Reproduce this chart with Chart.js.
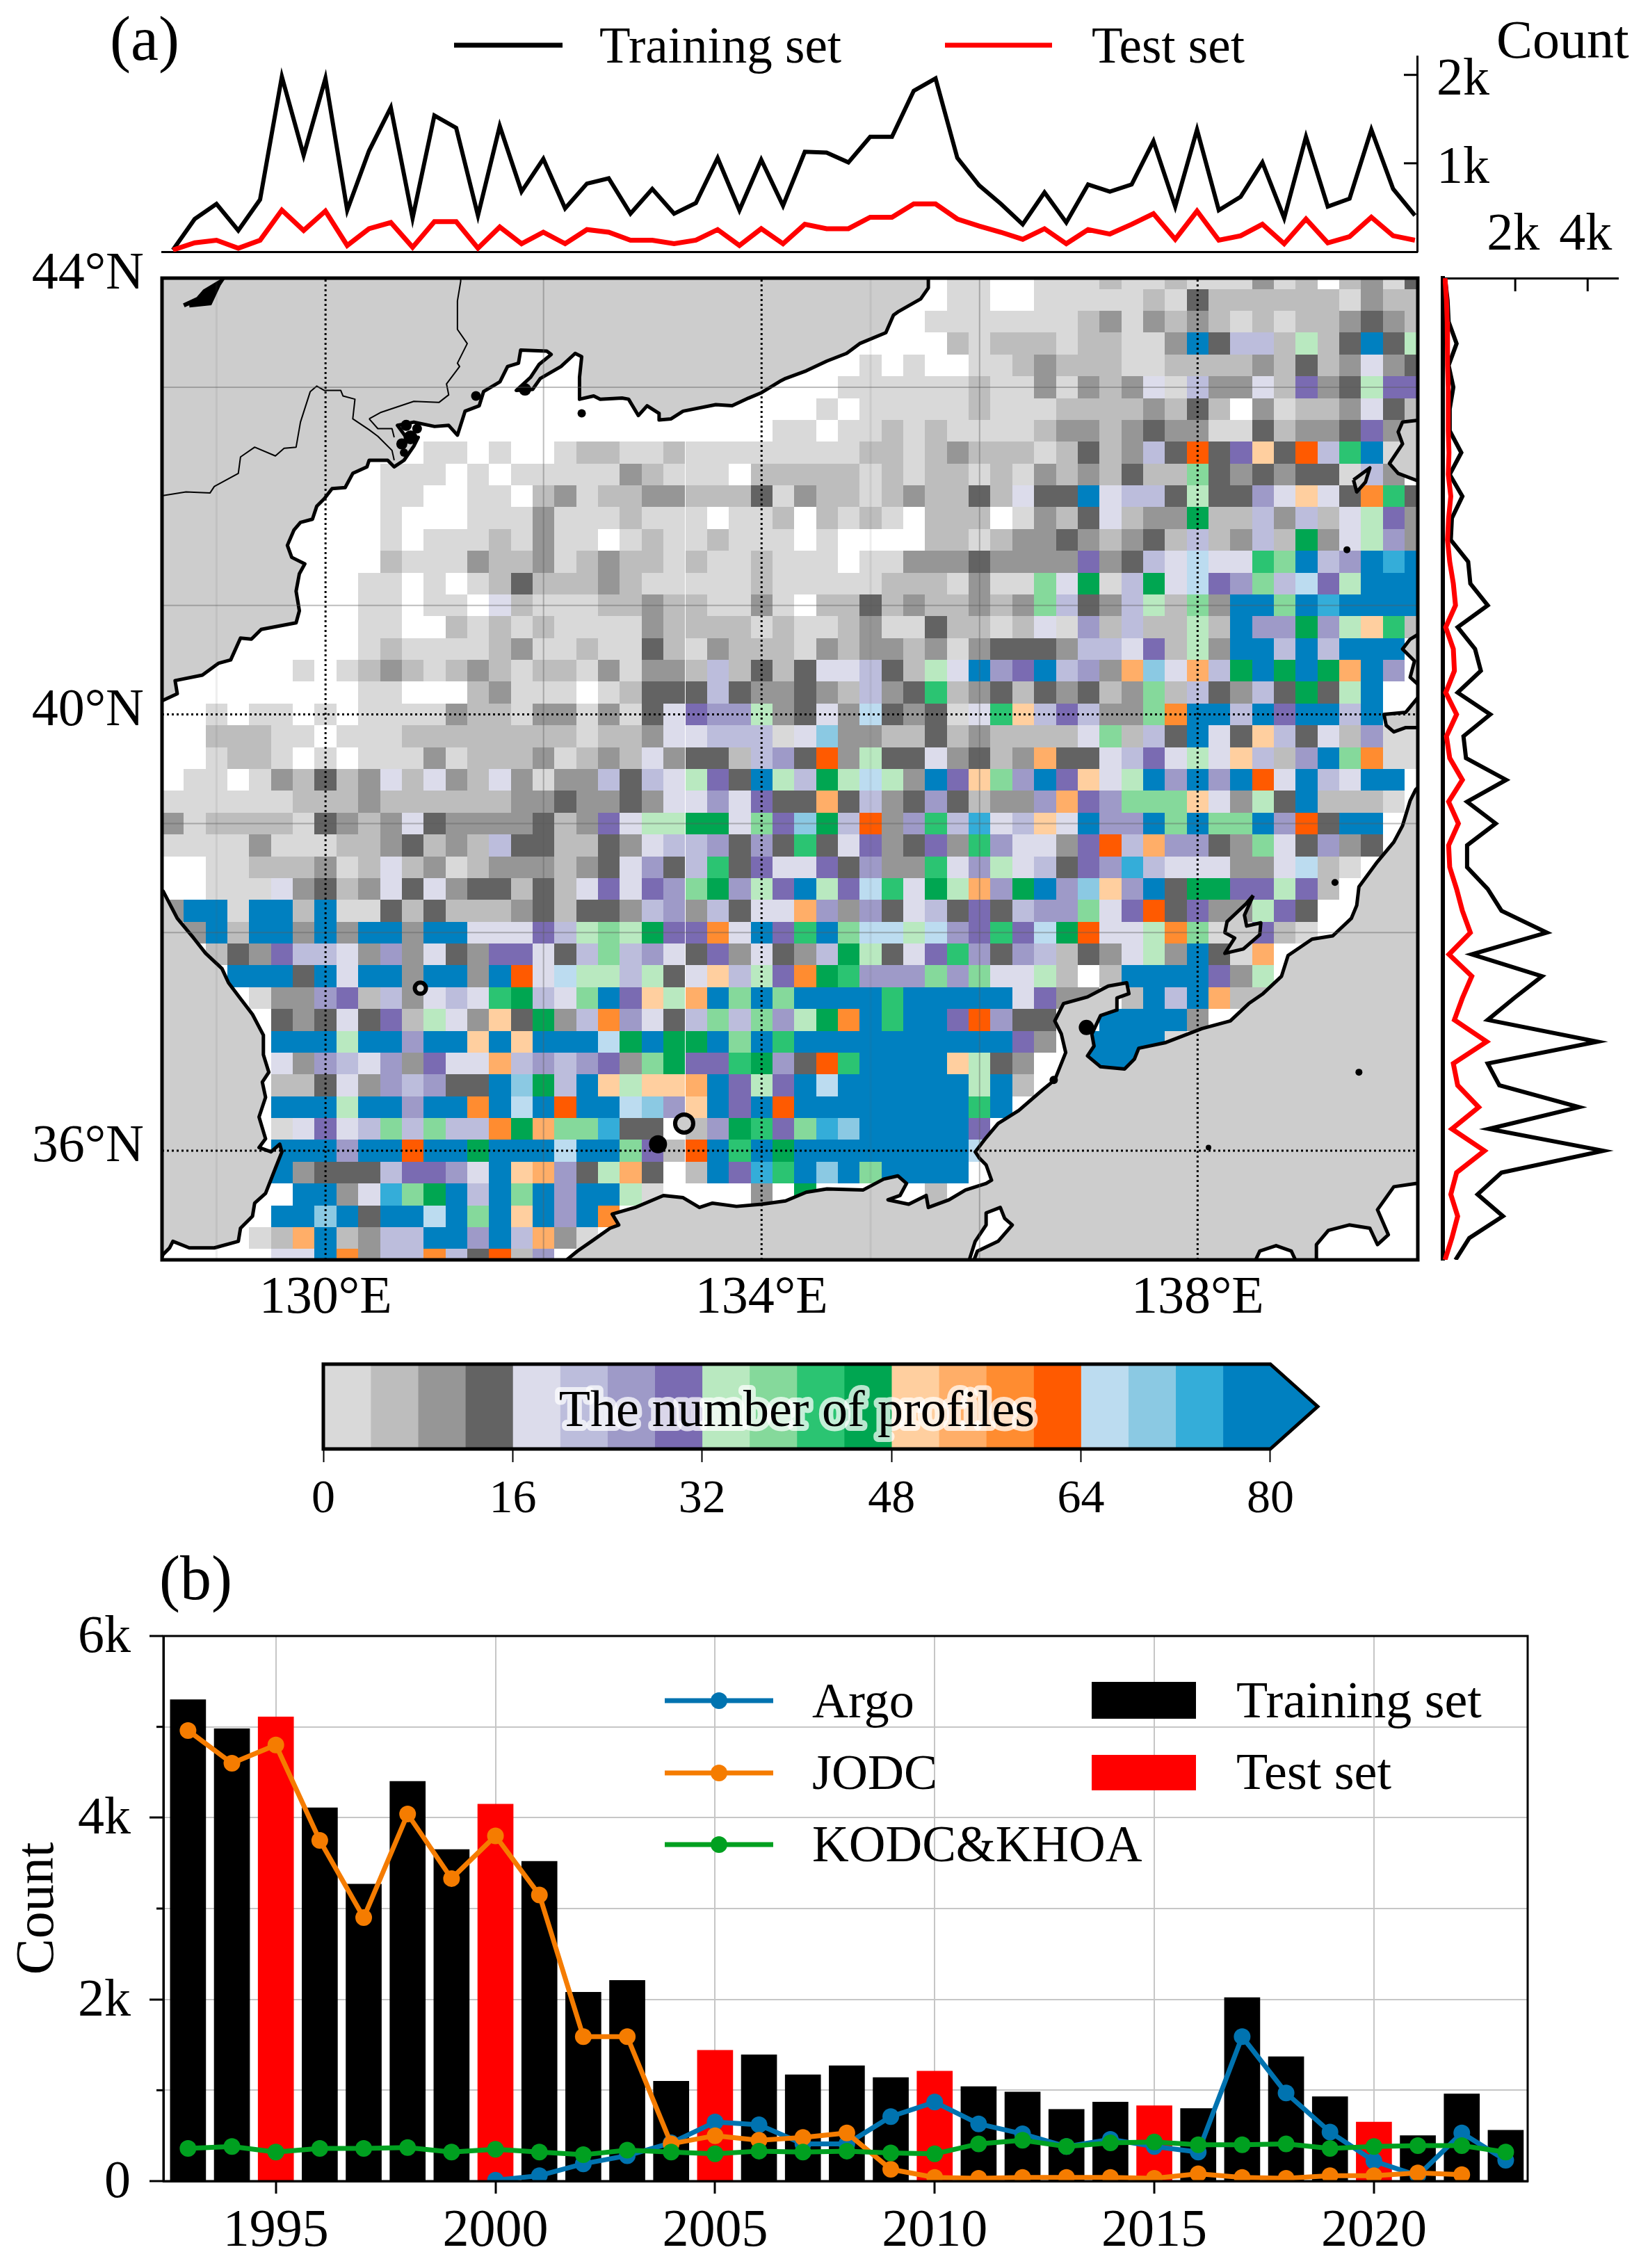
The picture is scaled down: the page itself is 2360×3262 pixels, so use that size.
<!DOCTYPE html>
<html>
<head>
<meta charset="utf-8">
<title>Profiles</title>
<script src="https://cdn.jsdelivr.net/npm/chart.js@4"></script>
<style>
  html, body { margin: 0; padding: 0; background: #fff; }
  #page { position: relative; width: 2360px; height: 3262px; overflow: hidden; }
  canvas { position: absolute; left: 0; }
</style>
</head>
<body>
<div id="page">
  <canvas id="mapChart" width="2360" height="1600" style="top:350px"></canvas>
  <canvas id="topChart" width="2360" height="400" style="top:0"></canvas>
  <canvas id="rightChart" width="2360" height="1540" style="top:280px"></canvas>
  <canvas id="barChart2" width="2360" height="1062" style="top:2200px"></canvas>
  <canvas id="colorChart" width="2360" height="300" style="top:1900px"></canvas>
</div>
<script>
// ---- data ----
const SERIF = '"Liberation Serif", "Times New Roman", serif';

// marginal counts per 0.2 degree of longitude (k profiles)
const lonCentres = [128.6,128.8,129,129.2,129.4,129.6,129.8,130,130.2,130.4,130.6,130.8,131,131.2,131.4,131.6,131.8,132,132.2,132.4,132.6,132.8,133,133.2,133.4,133.6,133.8,134,134.2,134.4,134.6,134.8,135,135.2,135.4,135.6,135.8,136,136.2,136.4,136.6,136.8,137,137.2,137.4,137.6,137.8,138,138.2,138.4,138.6,138.8,139,139.2,139.4,139.6,139.8,140];
const lonTraining = [.02,.37,.54,.24,.59,1.98,1.09,1.96,.47,1.14,1.63,.38,1.54,1.40,.41,1.42,.68,1.05,.49,.77,.83,.43,.71,.43,.55,1.06,.47,1.04,.52,1.13,1.12,1.01,1.30,1.30,1.82,1.96,1.06,.75,.54,.31,.67,.33,.76,.68,.76,1.25,.51,1.38,.47,.62,1.01,.38,1.30,.51,.60,1.38,.71,.41];
const lonTest = [.02,.10,.13,.04,.13,.47,.24,.46,.07,.26,.33,.05,.34,.34,.04,.28,.09,.22,.09,.25,.22,.13,.13,.09,.13,.25,.07,.26,.09,.31,.26,.26,.39,.39,.54,.54,.37,.29,.22,.14,.26,.09,.25,.20,.31,.43,.14,.46,.13,.18,.31,.09,.37,.10,.17,.39,.18,.13];

// marginal counts per 0.2 degree of latitude (k profiles), north to south
const latCentres = [44,43.8,43.6,43.4,43.2,43,42.8,42.6,42.4,42.2,42,41.8,41.6,41.4,41.2,41,40.8,40.6,40.4,40.2,40,39.8,39.6,39.4,39.2,39,38.8,38.6,38.4,38.2,38,37.8,37.6,37.4,37.2,37,36.8,36.6,36.4,36.2,36,35.8,35.6,35.4,35.2,35];
const latTraining = [.06,.13,.16,.38,.16,.29,.19,.19,.51,.19,.54,.25,.22,.70,.76,1.24,.41,.89,1.05,.41,1.31,.57,.64,1.75,.67,1.46,.67,.67,1.24,1.62,2.87,.80,2.74,1.97,1.24,4.27,1.24,1.56,3.76,1.27,4.43,1.62,.96,1.66,.73,.35];
const latTest = [.06,.10,.12,.13,.13,.15,.15,.15,.17,.15,.22,.16,.13,.19,.29,.35,.08,.29,.32,.08,.38,.10,.19,.54,.16,.43,.16,.19,.38,.54,.76,.17,.80,.54,.32,1.21,.29,.41,.99,.25,1.15,.38,.22,.41,.25,.06];

// colour bins, 4 profiles wide, from 0 to 80+
const binKeys = '1234' + '5678' + '9abc' + 'defg' + 'hijk';
const binColors = ['#d9d9d9','#bdbdbd','#969696','#636363','#dcdceb','#bcbddc','#9e9ac8','#7a6bb2','#b9e9c0','#85d99b','#2bc472','#00a651','#ffcf9f','#ffae68','#ff8c30','#ff5a00','#bcdcf0','#8bc9e3','#34add9','#0080c0'];
const binEdges = [0,4,8,12,16,20,24,28,32,36,40,44,48,52,56,60,64,68,72,76,80];
const colorbarTicks = [0,16,32,48,64,80];

// profile count bin per cell. cols start at 128.6E and step 0.2, rows start at 44N and step -0.2
const rowStart = [36,36,35,36,32,31,30,28,12,10,10,10,10,10,9,9,9,9,6,9,2,2,2,0,0,0,0,0,0,0,0,0,0,0,0,0,0,0,0,0,0,0,0,0,0,0];
const cellRows = [
  '11.. 111 2 11 2 111 3 1 2 . 2 3 1 4',
  '11.. 11111 2 1 4 222222 1 3 22',
  '1111111 2 3 1 3 2 3 2 1 2 1 22 3 4 3 2',
  '2 1 222 1 22 11 3 k 4 66 2 9 2 4 k 4 9',
  '1 . 1 .. 11 2 3 222 11 2222 3 2 4 2 3 5 3 4',
  '111111 2 11 3 1 3 2 3 5 1 6 33 5 2 8 3 4 9 88',
  '1 . 11111 2 111 2222 3 2 4 2 . 3 1 22 3 5 4 2',
  '11 . 11 2 1 2 1111 2 33 2 3 4 33 11 4 2 33 4 8 3 .',
  '11 . 1 .. 1 22 11 2 11111 111 22 1 2 3 222 1 2 4 2 3 6 4 g 4 8 d 4 g 6 b k 1 .',
  '111 . 1 . 11111 3 2 111 . 22 222 1 2 1 22 1 2 1 3 2 3 2 4 22 a 4 3 4 3 44 1 6 3 .',
  '11 .. 11 . 2 3 1 22 33 222 4 1 3 22 1 2 3 22 4 2 5 44 k 5 66 4 9 44 7 5 d 5 4 f b 4',
  '1 ... 111 3 111 2 111 . 11 2 . 2 1 2 1 . 222 . 1 3 2 4 5 2 33 c 22 6 3 6 2 5 9 8 3',
  '1 . 111 2 1 3 11 . 1 2 11 2 111 . 1 .... 22 1 2 33 4 3 2 3 4 2 6 2 3 6 2 c 3 5 9 7 3',
  '2 111 3 22 3 1 2 3 22 1 2 11 2 1 11 . 11 333 4 3333 8 3 4 6 5 h 55 b a k 6 7 k j k',
  '11 . 1 . 1 2 4 222 3 2 11111 2 11111 222 1 3 11 a 5 c 1 6 c 5 h 8 7 a 6 h 8 9 kkk',
  '11 . 11 . 5 2 111 22 3 22 11 3 1 . 22 4 2 3 22 3 2 3 a 6 4 3 6 9 2 a 3 kk a k j kkkk',
  '11 .. 2 1 2 1 2 1111 3 2222 1 2 11 2 3 11 4 22 1 2 5 1 7 2 6 22 9 2 k 77 c 7 9 d b 2',
  '1 2 1111 2 3 11 2 11 4 2 1 3 22 2 1 3 2 33 2 3 1 3 444 3 66 5 8 2 9 3 kk 6 k 6 kkk .',
  '1 . 1 2 3 2 1 2 3 2 1 22 1 3 1 33 2 6 2 4 2 4 55 6 4 2 9 5 k 7 8 k 6 7 3 e i 5 e 6 c k c k c e k 7 .',
  '11 ... 2 3 111 . 1 2 444 6 4 3 3 4 3 2 6 3 4 b 2 3 4 2 4 3 4 2 3 a 2 6 4 3 6 4 c 4 9 k ..',
  '1 . 11 . 1 . 1111 3 22 1 33 1 3 1 4 5 8 77 9 3 4 5 3 h 4 3 4 1 5 b d 6 8 6 33 a f kk 6 k 8 kk 6 k ..',
  '222 11 . 111 22222222 1 22 3 55 666 1 5 i 33 22 4 2 3 2222 5 a 2 6 4 k 5 4 d 6 4 5 2 7 11',
  '1 22 1 . 1 . 111 3 1 222 3 1 2 3 2 5 3 44 2 6 7 4 g 3 9 44 5 3 4 2 3 e 44 5 6 8 5 9 5 d 6 2 7 k a f 11',
  '. 11 . 1 3 2 4 2 3 5 2 5 3 2 5 3 1 33 6 4 6 5 9 8 4 k 9 6 c 9 h 9 3 k 8 d a 7 k 8 d 5 9 k 7 k 7 k g 5 k 6 5 kk .',
  '111111 222 3 222222 33 4 33 4 3 55 7 5 8 4 4 e 4 6 3 4 7 4 2 33 7 e 8 7 aaa d 5 3 9 4 k 222 1 .',
  '3 1 2222 1 4 3 2 3 5 4 3333 4 2 3 8 5 99 cc 5 a 8 i c 6 g 3 7 b 6 j 5 6 d 5 k 77 k a k aa k 7 g 4 kk ..',
  '1111 3 111 22 3 4 2 3 2 6 44 22 4 3 5 66 7 4 7 4 b 4 5 8 3 4 8 3 b 7 55 3 8 g 6 e 77 4 3 a 5 4 7 3 4 ..',
  '.. 11 222 3 1 2 5 2 3 1 2 333 2 3 4 5 7 4 6 b 4 8 5 5 8 4 7 33 b 5 7 9 5 6 4 8 7 j 6 555 33 5 h 2 1 ...',
  '.. 111 5 3 4 2 3 5 4 5 3 44 2 4 2 5 8 5 8 7 a c 7 9 8 k 9 8 h b 5 c 9 e 7 c k 7 i d 7 k 4 cc 88 9 8 2 ....',
  '3 kk 1 kk 2 k 11 4 2 4 222 3 4 2 44 3 6 7 3 6 4 55 e 7 3 7 4 5 6 4 8 4 6 77 a 5 8 g 4 8 3 3 9 8 4 .....',
  '. 3 k 2 kk 3 k 3 kk 3 kk 555 8 6 9 a 9 c 88 f 5 k 8 b k a hh 9 h 7 8 b 8 h c g 55 9 f a 1 1 8 2 1 .....',
  '.. 2 4 3 8 66 5 3 7 3 5 4 3 88 5 4 6 a 6 7 5 4 8 3 5 4 3 6 c 9 4 5 8 b 7 4 7 6 2 4 3 5 9 3 k 4 1 e .......',
  '... kkk 4 k 5 kk 3 kk 3 k g 5 h 99 6 9 4 5 d 6 9 8 f c b 777 a 7 a 55 9 2 . 2 kkkk 8 3 9 .......',
  '.... 1 33 7 8 2 6 3 5 6 5 b c 6 5 a k 8 d 9 e k a k a kkkk b kkkkk 5 8 3 3 . 2 k 6 k e 22 .......',
  '..... 4 3 4 5 4 8 2 9 5 3 d 4 c 3 6 f 7 5 4 6 a 6 a 7 9 c f k b kk 8 g 7 44 .. kkkk 3 ..........',
  '..... kkk 9 kk 7 kk d k d kkk h c k cc k a k b kkkkkkkkkk 8 3 . kkkk 1 ...........',
  '..... 5 3 7 6 5 7 3 8 55 e 6 7 6 7 8 3 a c 88 b c 7 4 g b kkkk d 9 4 3 .. kkk .............',
  '..... 22 4 5 3 7 6 7 44 k i c 6 k d 9 dd e k 8 9 8 k h kkkkkk 9 k 2 ..................',
  '..... kkk 9 kk 7 kk f k h k g kk h i 7 d k 8 k g kkkkkkkk b k ...................',
  '..... 1 5 8 5 6 a 6 a 66 f c e aa j 44 . 2 7 c b 8 a j i kkkkk 8 ....................',
  '..... kkk 7 kk g kk c kkk h kk a 8 2 g k b k c kkkkkkkk h ....................',
  '..... k 3 444 6 88 7 5 k d e 7 4 9 e 4 . 2 k 8 j b k i k a kkkk .....................',
  '...... kk 3 5 j a c k 6 k a k 7 kk 9 1 .... 3 . c ..... 2',
  '..... kk i k 4 kk h k a k d k 7 k f',
  '.... 1 2 e k 2 3 66 kk 7 k 6 e 3 1',
  '..... 55 k f 3 66 f 6 4 g 2 7'
];

// coastlines in degrees (lon, lat)
const coastNorth = [[128.4,40.13],[128.51,40.13],[128.64,40.19],[128.62,40.31],[128.87,40.36],[129.02,40.47],[129.13,40.50],[129.22,40.70],[129.32,40.69],[129.41,40.78],[129.73,40.84],[129.76,40.95],[129.73,41.13],[129.76,41.29],[129.81,41.38],[129.69,41.44],[129.65,41.55],[129.71,41.69],[129.77,41.76],[129.88,41.79],[129.92,41.91],[129.99,41.98],[130.06,42.07],[130.18,42.08],[130.25,42.21],[130.38,42.27],[130.40,42.33],[130.57,42.33],[130.63,42.27],[130.72,42.33],[130.81,42.46],[130.85,42.54],[130.74,42.54],[130.66,42.65],[130.81,42.68],[131.0,42.64],[131.13,42.65],[131.21,42.56],[131.28,42.78],[131.41,42.83],[131.45,42.96],[131.60,43.05],[131.67,43.19],[131.77,43.22],[131.79,43.34],[132.03,43.33],[132.07,43.30],[131.96,43.21],[131.88,43.09],[131.75,42.97],[131.90,42.98],[131.97,43.08],[132.16,43.19],[132.29,43.31],[132.35,43.28],[132.33,43.09],[132.33,42.89],[132.46,42.92],[132.52,42.89],[132.72,42.90],[132.78,42.89],[132.87,42.74],[132.95,42.83],[133.06,42.76],[133.06,42.70],[133.17,42.71],[133.28,42.78],[133.58,42.84],[133.73,42.83],[133.88,42.90],[134.0,42.95],[134.18,43.06],[134.22,43.08],[134.41,43.15],[134.60,43.24],[134.78,43.31],[134.90,43.40],[135.14,43.50],[135.21,43.66],[135.25,43.69],[135.46,43.81],[135.53,43.91],[135.53,44.1],[128.4,44.1]];
const coastKorea = [[128.4,38.38],[128.51,38.38],[128.64,38.13],[128.79,37.95],[128.90,37.81],[129.05,37.67],[129.11,37.54],[129.20,37.42],[129.33,37.25],[129.43,37.06],[129.43,36.88],[129.48,36.72],[129.42,36.63],[129.45,36.49],[129.39,36.31],[129.45,36.11],[129.39,36.03],[129.50,35.99],[129.58,36.06],[129.60,35.99],[129.54,35.84],[129.45,35.61],[129.35,35.52],[129.33,35.40],[129.22,35.29],[129.20,35.17],[128.98,35.11],[128.75,35.11],[128.60,35.17],[128.57,35.11],[128.51,35.05],[128.45,34.9],[128.4,34.9]];
const coastHonshu = [[132.20,34.99],[132.31,35.08],[132.44,35.17],[132.61,35.29],[132.69,35.32],[132.63,35.42],[132.84,35.48],[133.10,35.59],[133.28,35.57],[133.43,35.48],[133.55,35.52],[133.77,35.49],[134.0,35.51],[134.22,35.54],[134.41,35.62],[134.60,35.65],[134.93,35.64],[135.12,35.74],[135.25,35.77],[135.33,35.70],[135.27,35.59],[135.16,35.55],[135.35,35.51],[135.51,35.59],[135.53,35.48],[135.72,35.55],[135.87,35.64],[136.06,35.70],[136.11,35.73],[136.06,35.87],[136.0,35.93],[135.96,35.99],[136.06,36.12],[136.17,36.25],[136.36,36.37],[136.58,36.56],[136.69,36.65],[136.79,36.90],[136.75,37.07],[136.69,37.19],[136.77,37.35],[136.99,37.41],[137.18,37.51],[137.35,37.54],[137.37,37.44],[137.26,37.40],[137.26,37.29],[137.11,37.24],[137.03,37.07],[137.05,36.96],[136.99,36.87],[137.11,36.77],[137.33,36.75],[137.42,36.84],[137.46,36.94],[137.70,36.99],[138.04,37.12],[138.30,37.19],[138.47,37.35],[138.60,37.44],[138.77,37.60],[138.83,37.79],[139.05,37.94],[139.24,37.97],[139.41,38.13],[139.46,38.25],[139.48,38.42],[139.65,38.65],[139.80,38.83],[139.88,38.98],[139.95,39.21],[140.0,39.31],[140.05,39.36],[140.2,39.36],[140.2,34.8],[132.1,34.8]];
const coastAomori = [[140.05,40.75],[139.95,40.69],[139.88,40.60],[139.99,40.49],[139.95,40.34],[140.05,40.25],[140.2,40.25],[140.2,40.75]];
const coastOga = [[140.05,40.19],[139.91,40.02],[139.71,40.0],[139.73,39.9],[139.8,39.84],[139.91,39.88],[140.05,39.88],[140.2,39.88],[140.2,40.19]];
const coastOshima = [[140.05,42.70],[139.88,42.68],[139.84,42.59],[139.88,42.48],[139.76,42.30],[139.84,42.21],[140.05,42.13],[140.2,42.13],[140.2,42.70]];
const coastSado = [[138.51,38.34],[138.43,38.16],[138.45,38.06],[138.58,38.09],[138.57,37.98],[138.42,37.85],[138.25,37.81],[138.34,37.95],[138.25,38.0],[138.27,38.1],[138.45,38.27]];
const coastOkushiri = [[139.43,42.15],[139.58,42.26],[139.54,42.13],[139.46,42.04]];
const waterBiwa = [[135.89,34.95],[135.96,35.17],[136.06,35.32],[136.06,35.43],[136.19,35.48],[136.23,35.38],[136.30,35.32],[136.17,35.17],[135.98,35.08],[135.93,34.95]];
const waterSuruga = [[138.51,34.95],[138.57,35.08],[138.72,35.13],[138.86,35.08],[138.92,34.95]];
const waterKanto = [[139.09,34.95],[139.09,35.14],[139.2,35.27],[139.39,35.32],[139.58,35.29],[139.65,35.14],[139.75,35.23],[139.65,35.46],[139.8,35.67],[140.0,35.70],[140.1,35.70],[140.1,34.95]];
const lakeKhanka = [[128.70,43.75],[128.83,43.81],[128.89,43.88],[129.04,43.97],[129.02,43.94],[128.94,43.77],[128.75,43.75]];
const borderChina = [[128.4,41.99],[128.72,42.04],[128.94,42.03],[128.98,42.09],[129.2,42.21],[129.22,42.36],[129.35,42.45],[129.54,42.37],[129.62,42.44],[129.73,42.45],[129.77,42.68],[129.86,42.96],[129.92,43.01],[129.99,42.97],[130.14,42.97],[130.16,42.92],[130.27,42.89],[130.25,42.71],[130.4,42.61],[130.48,42.55],[130.61,42.42],[130.63,42.33]];
const borderRussia = [[130.4,42.71],[130.51,42.77],[130.81,42.87],[131.04,42.86],[131.13,42.93],[131.11,43.03],[131.23,43.19],[131.21,43.22],[131.3,43.4],[131.21,43.53],[131.21,43.79],[131.24,43.97],[131.24,44.05]];
const borderTumen = [[130.4,42.71],[130.48,42.62],[130.61,42.62],[130.63,42.54]];
const blackIslandLon = [133.05,139.26,139.48,138.1,139.37,136.98,132.35,131.83,130.78,130.74,131.38,136.68,130.70,130.84,130.72];
const blackIslandLat = [36.06,38.46,36.72,36.03,41.51,37.13,42.76,42.98,42.54,42.65,42.92,36.65,42.48,42.62,42.40];
const blackIslandSize = [13,5,5,4,5,11,6,9,10,8,7,6,8,7,6];
const ringIslandLon = [133.29,130.87];
const ringIslandLat = [36.25,37.49];
const ringIslandSize = [13,8];

const dottedLons = [130,134,138];
const dottedLats = [36,40];
const greyLons = [132,136];
const greyLats = [43,41,39,38];
const faintLons = [129,135];
const mapLonTicks = [130,134,138];
const mapLatTicks = [36,40,44];

// yearly counts (k profiles)
const years = [1993,1994,1995,1996,1997,1998,1999,2000,2001,2002,2003,2004,2005,2006,2007,2008,2009,2010,2011,2012,2013,2014,2015,2016,2017,2018,2019,2020,2021,2022,2023];
const testYears = [1995,2000,2005,2010,2015,2020];
const yearTotals = [5.30,4.98,5.11,4.11,3.27,4.40,3.65,4.15,3.52,2.08,2.21,1.10,1.44,1.39,1.17,1.27,1.14,1.21,1.04,.98,.79,.87,.83,.80,2.02,1.37,.93,.65,.50,.96,.56];
const jodc = [4.96,4.60,4.80,3.75,2.90,4.04,3.33,3.80,3.15,1.59,1.59,.41,.50,.45,.48,.53,.13,.04,.03,.04,.04,.04,.03,.08,.04,.03,.06,.06,.09,.07,null];
const argo = [null,null,null,null,null,null,null,.01,.06,.19,.28,.42,.65,.62,.41,.41,.71,.87,.63,.52,.38,.46,.38,.32,1.59,.97,.54,.22,.06,.53,.23];
const kodc = [.36,.38,.32,.36,.36,.37,.32,.35,.32,.29,.34,.32,.30,.33,.32,.33,.31,.30,.41,.45,.38,.42,.43,.40,.40,.41,.36,.38,.39,.39,.32];
const yearTicks = [1995,2000,2005,2010,2015,2020];
const countTicks = [0,1,2,3,4,5,6];

// ---- setup ----
Chart.defaults.font.family = SERIF;
Chart.defaults.color = '#000';
Chart.defaults.animation = false;
Chart.defaults.responsive = false;
Chart.defaults.plugins.legend.display = false;
Chart.defaults.plugins.tooltip.enabled = false;

const lonMin = 128.5, lonMax = 140.02, latMin = 35, latMax = 44;
const pts = arr => arr.map(p => ({ x: p[0], y: p[1] }));
const setTicks = values => scale => { scale.ticks = values.map(v => ({ value: v })); };
// pin a scale box to an exact size and stop it asking for room for its end labels
const fixBox = (prop, size) => scale => {
  scale[prop] = size;
  scale.paddingTop = scale.paddingBottom = scale.paddingLeft = scale.paddingRight = 0;
};

function putText(ctx, text, x, y, size, align) {
  ctx.save();
  ctx.font = size + 'px ' + SERIF;
  ctx.fillStyle = '#000';
  ctx.textAlign = align || 'left';
  ctx.textBaseline = 'alphabetic';
  ctx.fillText(text, x, y);
  ctx.restore();
}
function swatchLine(ctx, x1, x2, y, color, width, marker) {
  ctx.save();
  ctx.strokeStyle = color;
  ctx.lineWidth = width;
  ctx.beginPath(); ctx.moveTo(x1, y); ctx.lineTo(x2, y); ctx.stroke();
  if (marker) {
    ctx.fillStyle = color;
    ctx.beginPath(); ctx.arc((x1 + x2) / 2, y, marker, 0, Math.PI * 2); ctx.fill();
  }
  ctx.restore();
}
function lineSet(data, color, width, order, extra) {
  return Object.assign({ data: data, showLine: true, borderColor: color, borderWidth: width,
    pointRadius: 0, tension: 0, fill: false, order: order, borderJoinStyle: 'miter' }, extra || {});
}
function landSet(coast, order) {
  return lineSet(pts(coast), '#000', 5, order, { fill: 'shape', backgroundColor: '#cdcdcd', borderJoinStyle: 'round' });
}
function waterSet(coast, order) {
  return lineSet(pts(coast), '#000', 5, order, { fill: 'shape', backgroundColor: '#fff', borderJoinStyle: 'round' });
}

// ---- map ----
const cellPlugin = {
  id: 'cells',
  beforeDatasetsDraw(chart) {
    const { ctx, chartArea: a, scales: { x, y } } = chart;
    ctx.save();
    ctx.beginPath(); ctx.rect(a.left, a.top, a.right - a.left, a.bottom - a.top); ctx.clip();
    cellRows.forEach((row, r) => {
      const codes = row.replace(/ /g, '');
      const lat = latMax - 0.2 * r;
      for (let i = 0; i < codes.length; i++) {
        const bin = binKeys.indexOf(codes[i]);
        if (bin < 0) continue;
        const lon = 128.6 + 0.2 * (rowStart[r] + i);
        const x0 = Math.round(x.getPixelForValue(lon - 0.1));
        const x1 = Math.round(x.getPixelForValue(lon + 0.1));
        const y0 = Math.round(y.getPixelForValue(lat + 0.1));
        const y1 = Math.round(y.getPixelForValue(lat - 0.1));
        ctx.fillStyle = binColors[bin];
        ctx.fillRect(x0, y0, x1 - x0, y1 - y0);
      }
    });
    ctx.restore();
  },
  afterDraw(chart) {
    const { ctx, chartArea: a } = chart;
    ctx.save();
    ctx.strokeStyle = '#000';
    ctx.lineWidth = 5;
    ctx.strokeRect(a.left, a.top, a.right - a.left, a.bottom - a.top);
    ctx.restore();
  }
};

const mapSets = [];
dottedLons.forEach(v => mapSets.push(lineSet([{ x: v, y: latMin }, { x: v, y: latMax }], '#000', 3, 1, { borderDash: [3, 4] })));
dottedLats.forEach(v => mapSets.push(lineSet([{ x: lonMin, y: v }, { x: lonMax, y: v }], '#000', 3, 1, { borderDash: [3, 4] })));
greyLons.forEach(v => mapSets.push(lineSet([{ x: v, y: latMin }, { x: v, y: latMax }], 'rgba(90,90,90,.4)', 2, 2)));
greyLats.forEach(v => mapSets.push(lineSet([{ x: lonMin, y: v }, { x: lonMax, y: v }], 'rgba(90,90,90,.4)', 2, 2)));
faintLons.forEach(v => mapSets.push(lineSet([{ x: v, y: latMin }, { x: v, y: latMax }], 'rgba(90,90,90,.1)', 3, 2)));
[borderChina, borderRussia, borderTumen].forEach(b => mapSets.push(lineSet(pts(b), '#000', 2, 3, { borderJoinStyle: 'round' })));
mapSets.push({ data: blackIslandLon.map((v, i) => ({ x: v, y: blackIslandLat[i] })), pointRadius: blackIslandSize, pointBackgroundColor: '#000', pointBorderWidth: 0, order: 4 });
mapSets.push({ data: ringIslandLon.map((v, i) => ({ x: v, y: ringIslandLat[i] })), pointRadius: ringIslandSize, pointBackgroundColor: '#cdcdcd', pointBorderColor: '#000', pointBorderWidth: 6, order: 4 });
[coastSado, coastOkushiri].forEach(c => mapSets.push(landSet(c.concat([c[0]]), 5)));
mapSets.push(lineSet(pts(lakeKhanka), '#000', 6, 5, { fill: 'shape', backgroundColor: '#000' }));
[waterBiwa, waterSuruga, waterKanto].forEach(c => mapSets.push(waterSet(c, 6)));
[coastNorth, coastKorea, coastHonshu, coastAomori, coastOga, coastOshima].forEach(c => mapSets.push(landSet(c, 7)));

new Chart(document.getElementById('mapChart'), {
  type: 'scatter',
  data: { datasets: mapSets },
  plugins: [cellPlugin],
  options: {
    layout: { padding: { top: 50, right: 321 } },
    scales: {
      x: {
        type: 'linear', min: lonMin, max: lonMax,
        afterBuildTicks: setTicks(mapLonTicks),
        afterFit: fixBox('height', 138),
        grid: { display: false }, border: { display: false },
        ticks: { font: { size: 76 }, padding: 2, maxRotation: 0, callback: v => v + '°E' }
      },
      y: {
        type: 'linear', min: latMin, max: latMax,
        afterBuildTicks: setTicks(mapLatTicks),
        afterFit: fixBox('width', 233),
        grid: { display: false }, border: { display: false },
        ticks: { font: { size: 76 }, padding: 18, labelOffset: -5, callback: v => v + '°N' }
      }
    }
  }
});

// ---- top marginal ----
const innerTicks = (axis, values, length) => ({
  id: 'innerTicks',
  afterDraw(chart) {
    const { ctx, chartArea: a, scales } = chart;
    ctx.save();
    ctx.strokeStyle = '#000';
    ctx.lineWidth = 3;
    values.forEach(v => {
      ctx.beginPath();
      if (axis === 'y') {
        const py = scales.y.getPixelForValue(v);
        ctx.moveTo(a.right, py); ctx.lineTo(a.right - length, py);
      } else {
        const px = scales.x.getPixelForValue(v);
        ctx.moveTo(px, a.top); ctx.lineTo(px, a.top + length);
      }
      ctx.stroke();
    });
    ctx.restore();
  }
});
const topLabels = {
  id: 'topLabels',
  afterDraw(chart) {
    const ctx = chart.ctx;
    putText(ctx, '(a)', 158, 86, 90);
    swatchLine(ctx, 653, 809, 65, '#000', 7);
    putText(ctx, 'Training set', 862, 90, 73);
    swatchLine(ctx, 1359, 1513, 65, '#ff0000', 7);
    putText(ctx, 'Test set', 1570, 90, 73);
    putText(ctx, 'Count', 2152, 83, 78);
  }
};
new Chart(document.getElementById('topChart'), {
  type: 'scatter',
  data: {
    datasets: [
      lineSet(lonCentres.map((v, i) => ({ x: v, y: lonTest[i] })), '#ff0000', 7, 1),
      lineSet(lonCentres.map((v, i) => ({ x: v, y: lonTraining[i] })), '#000', 6, 2)
    ]
  },
  plugins: [innerTicks('y', [1, 2], 19), topLabels],
  options: {
    layout: { padding: { left: 233, top: 81, bottom: 38 } },
    scales: {
      x: {
        type: 'linear', min: lonMin, max: lonMax,
        afterFit: fixBox('height', 0),
        grid: { display: false }, ticks: { display: false },
        border: { display: true, color: '#000', width: 3 }
      },
      y: {
        type: 'linear', position: 'right', min: 0, max: 2.21,
        afterBuildTicks: setTicks([1, 2]),
        afterFit: fixBox('width', 322),
        grid: { display: false },
        border: { display: true, color: '#000', width: 3 },
        ticks: { font: { size: 76 }, padding: 20, labelOffset: 8, callback: v => v + 'k' }
      }
    }
  }
});

// ---- right marginal ----
new Chart(document.getElementById('rightChart'), {
  type: 'scatter',
  data: {
    datasets: [
      lineSet(latCentres.map((v, i) => ({ x: latTest[i], y: v })), '#ff0000', 7, 1),
      lineSet(latCentres.map((v, i) => ({ x: latTraining[i], y: v })), '#000', 6, 2)
    ]
  },
  plugins: [innerTicks('x', [2, 4], 19)],
  options: {
    layout: { padding: { right: 33, bottom: 8 } },
    scales: {
      x: {
        type: 'linear', position: 'top', min: 0, max: 4.84,
        afterBuildTicks: setTicks([2, 4]),
        afterFit: fixBox('height', 120),
        grid: { display: false },
        border: { display: true, color: '#000', width: 3 },
        ticks: { font: { size: 76 }, padding: 7, labelOffset: -3, maxRotation: 0, callback: v => v + 'k' }
      },
      y: {
        type: 'linear', min: latMin, max: latMax,
        afterFit: fixBox('width', 2075),
        grid: { display: false }, ticks: { display: false },
        border: { display: true, color: '#000', width: 6 }
      }
    }
  }
});

// ---- colour bar ----
const barOutline = {
  id: 'barOutline',
  afterDraw(chart) {
    const { ctx, chartArea: a, scales: { x } } = chart;
    const x0 = x.getPixelForValue(0), x80 = x.getPixelForValue(80), tip = x.getPixelForValue(84);
    const mid = (a.top + a.bottom) / 2;
    ctx.save();
    ctx.fillStyle = binColors[19];
    ctx.beginPath(); ctx.moveTo(x80, a.top); ctx.lineTo(tip, mid); ctx.lineTo(x80, a.bottom); ctx.closePath(); ctx.fill();
    ctx.strokeStyle = '#000';
    ctx.lineWidth = 5;
    ctx.beginPath(); ctx.moveTo(x0, a.top); ctx.lineTo(x80, a.top); ctx.lineTo(tip, mid); ctx.lineTo(x80, a.bottom); ctx.lineTo(x0, a.bottom); ctx.closePath(); ctx.stroke();
    ctx.font = '74px ' + SERIF;
    ctx.textAlign = 'center';
    ctx.textBaseline = 'alphabetic';
    ctx.lineJoin = 'round';
    ctx.strokeStyle = 'rgba(255,255,255,.72)';
    ctx.lineWidth = 14;
    ctx.strokeText('The number of profiles', 1146, 2051 - 1900);
    ctx.fillStyle = '#000';
    ctx.fillText('The number of profiles', 1146, 2051 - 1900);
    ctx.restore();
  }
};
new Chart(document.getElementById('colorChart'), {
  type: 'bar',
  data: {
    labels: [''],
    datasets: binColors.map((c, i) => ({
      data: [binEdges[i + 1] - binEdges[i]], backgroundColor: c, borderWidth: 0,
      barPercentage: 1, categoryPercentage: 1
    }))
  },
  plugins: [barOutline],
  options: {
    indexAxis: 'y',
    layout: { padding: { top: 62, right: 465 } },
    scales: {
      x: {
        stacked: true, type: 'linear', min: 0, max: 84,
        afterBuildTicks: setTicks(colorbarTicks),
        afterFit: fixBox('height', 116),
        grid: { drawOnChartArea: false, tickLength: 19, tickWidth: 2, tickColor: '#000' },
        border: { display: false },
        ticks: { font: { size: 68 }, padding: 13, maxRotation: 0 }
      },
      y: {
        stacked: true,
        afterFit: fixBox('width', 465),
        grid: { display: false }, border: { display: false }, ticks: { display: false }
      }
    }
  }
});

// ---- yearly bars ----
const barExtras = {
  id: 'barExtras',
  afterDraw(chart) {
    const { ctx, chartArea: a, scales: { y } } = chart;
    const off = 2200;
    ctx.save();
    ctx.strokeStyle = '#000';
    ctx.lineWidth = 3;
    ctx.strokeRect(a.left, a.top, a.right - a.left, a.bottom - a.top);
    countTicks.filter(v => v % 2).forEach(v => {
      const py = y.getPixelForValue(v);
      ctx.beginPath(); ctx.moveTo(a.left, py); ctx.lineTo(a.left - 10, py); ctx.stroke();
    });
    ctx.restore();
    putText(ctx, '(b)', 229, 2300 - off, 90);
    swatchLine(ctx, 956, 1112, 2446 - off, '#0073b0', 7, 12);
    putText(ctx, 'Argo', 1168, 2470 - off, 72);
    swatchLine(ctx, 956, 1112, 2550 - off, '#f57c00', 7, 12);
    putText(ctx, 'JODC', 1168, 2573 - off, 72);
    swatchLine(ctx, 956, 1112, 2653 - off, '#00a020', 7, 12);
    putText(ctx, 'KODC&KHOA', 1168, 2677 - off, 73);
    ctx.fillStyle = '#000';
    ctx.fillRect(1570, 2419 - off, 150, 53);
    putText(ctx, 'Training set', 1778, 2470 - off, 74);
    ctx.fillStyle = '#ff0000';
    ctx.fillRect(1570, 2524 - off, 150, 51);
    putText(ctx, 'Test set', 1778, 2573 - off, 74);
  }
};
const yearPoints = values => years.map((v, i) => ({ x: v, y: values[i] })).filter(p => p.y !== null);
const yearMarkers = color => ({ pointRadius: 12, pointBackgroundColor: color, pointBorderWidth: 0, borderJoinStyle: 'round' });
new Chart(document.getElementById('barChart2'), {
  type: 'bar',
  data: {
    datasets: [
      Object.assign(lineSet(yearPoints(kodc), '#00a020', 7, 1, yearMarkers('#00a020')), { type: 'line' }),
      Object.assign(lineSet(yearPoints(jodc), '#f57c00', 7, 2, yearMarkers('#f57c00')), { type: 'line' }),
      Object.assign(lineSet(yearPoints(argo), '#0073b0', 7, 3, yearMarkers('#0073b0')), { type: 'line' }),
      { type: 'bar', data: yearPoints(yearTotals).filter(p => !testYears.includes(p.x)), backgroundColor: '#000', barThickness: 51, grouped: false, order: 4 },
      { type: 'bar', data: yearPoints(yearTotals).filter(p => testYears.includes(p.x)), backgroundColor: '#ff0000', barThickness: 51, grouped: false, order: 4 }
    ]
  },
  plugins: [barExtras],
  options: {
    layout: { padding: { top: 153, right: 163 } },
    scales: {
      x: {
        type: 'linear', min: 1992.44, max: 2023.5, offset: false,
        afterBuildTicks: setTicks(yearTicks),
        afterFit: fixBox('height', 125),
        grid: { offset: false, color: '#c6c6c6', lineWidth: 2, tickLength: 18, tickColor: '#000', tickWidth: 3 },
        border: { display: true, color: '#000', width: 3 },
        ticks: { font: { size: 76 }, padding: 9, maxRotation: 0, callback: v => String(v) }
      },
      y: {
        type: 'linear', min: 0, max: 6,
        afterBuildTicks: setTicks(countTicks),
        afterFit: fixBox('width', 235),
        grid: {
          color: '#c6c6c6', lineWidth: 2, tickLength: 20, tickWidth: 3,
          tickColor: c => (c.tick && c.tick.value % 2 ? 'rgba(0,0,0,0)' : '#000')
        },
        border: { display: true, color: '#000', width: 3 },
        title: { display: true, text: 'Count', font: { size: 78 }, padding: { top: 9, bottom: 0 } },
        ticks: { font: { size: 76 }, padding: 27, labelOffset: 3, callback: v => (v % 2 ? '' : (v === 0 ? '0' : v + 'k')) }
      }
    }
  }
});
</script>
</body>
</html>
